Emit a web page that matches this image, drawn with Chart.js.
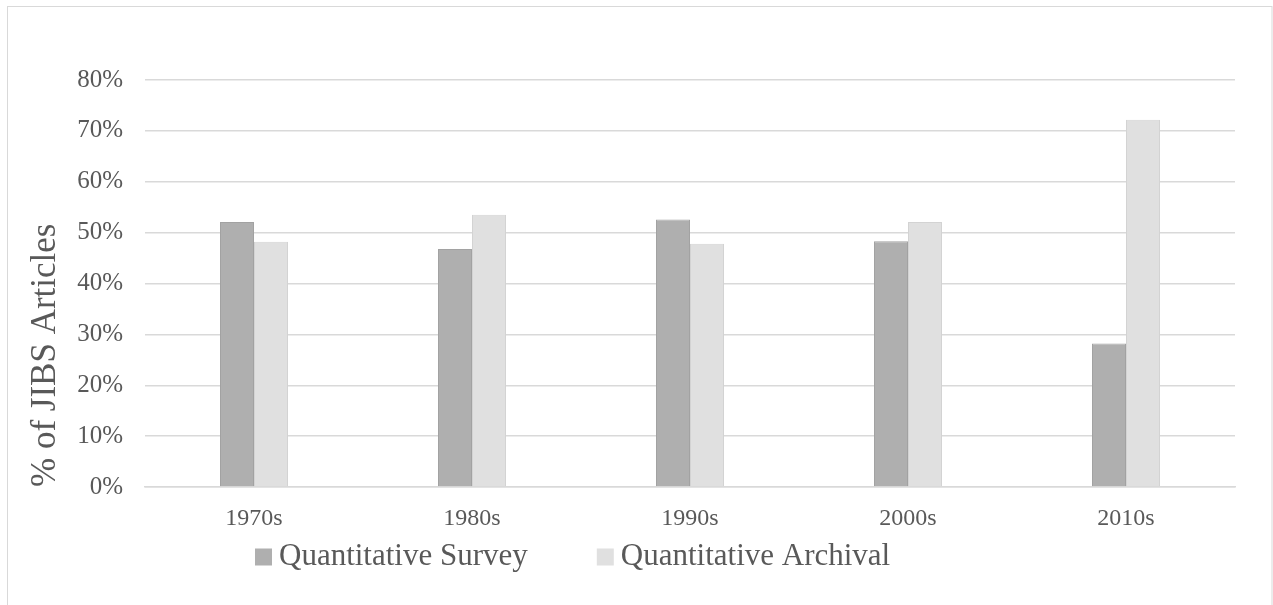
<!DOCTYPE html>
<html>
<head>
<meta charset="utf-8">
<title>% of JIBS Articles by decade</title>
<script src="https://cdn.jsdelivr.net/npm/chart.js@4/dist/chart.umd.min.js"></script>
<style>
  html, body { margin: 0; padding: 0; background: #ffffff; }
  #wrap { position: relative; width: 1273px; height: 605px; }
</style>
</head>
<body>
<div id="wrap"><canvas id="chart"></canvas></div>
<script>
// Decades and the share of quantitative JIBS articles by method
const decades = ['1970s', '1980s', '1990s', '2000s', '2010s'];
const surveyShare = [52.1, 46.8, 52.6, 48.3, 28.2];
const archivalShare = [48.2, 53.5, 47.8, 52.1, 72.2];
const seriesNames = ['Quantitative Survey', 'Quantitative Archival'];
const yTicks = [0, 10, 20, 30, 40, 50, 60, 70, 80];

const SERIF = '"Liberation Serif", "Times New Roman", serif';
const TEXT = '#595959';

// Thin frame around the whole chart
const chartFrame = {
  id: 'chartFrame',
  beforeDraw(chart) {
    const ctx = chart.ctx;
    ctx.save();
    ctx.fillStyle = '#ffffff';
    ctx.fillRect(0, 0, chart.width, chart.height);
    ctx.strokeStyle = '#d9d9d9';
    ctx.lineWidth = 1;
    ctx.strokeRect(7.5, 6.5, chart.width - 8.5, chart.height + 20);
    ctx.restore();
  }
};

// Legend row drawn under the category labels
const bottomLegend = {
  id: 'bottomLegend',
  afterDraw(chart, args, opts) {
    const ctx = chart.ctx;
    ctx.save();
    ctx.font = opts.fontSize + 'px ' + SERIF;
    ctx.textBaseline = 'middle';
    ctx.textAlign = 'left';
    let x = opts.startX;
    const y = opts.centerY;
    chart.data.datasets.forEach(ds => {
      ctx.fillStyle = ds.backgroundColor;
      ctx.fillRect(x, y - opts.box / 2, opts.box, opts.box);
      ctx.fillStyle = TEXT;
      const tx = x + opts.box + opts.textGap;
      ctx.fillText(ds.label, tx, y);
      x = tx + ctx.measureText(ds.label).width + opts.itemGap;
    });
    ctx.restore();
  }
};

new Chart(document.getElementById('chart'), {
  type: 'bar',
  data: {
    labels: decades,
    datasets: [
      {
        label: seriesNames[0],
        data: surveyShare,
        backgroundColor: '#afafaf',
        borderColor: '#a2a2a2',
        borderWidth: 1
      },
      {
        label: seriesNames[1],
        data: archivalShare,
        backgroundColor: '#e0e0e0',
        borderColor: '#d3d3d3',
        borderWidth: 1
      }
    ]
  },
  plugins: [chartFrame, bottomLegend],
  options: {
    responsive: true,
    maintainAspectRatio: false,
    animation: false,
    categoryPercentage: 0.312,
    barPercentage: 1.0,
    layout: { padding: { top: 80, right: 38, bottom: 0, left: 0 } },
    plugins: {
      legend: { display: false },
      tooltip: { enabled: false },
      bottomLegend: { startX: 255, centerY: 557, box: 17, textGap: 7, itemGap: 69, fontSize: 31 }
    },
    scales: {
      x: {
        grid: { display: false },
        border: { display: true, color: '#d9d9d9', width: 1.5 },
        ticks: {
          color: TEXT,
          font: { family: SERIF, size: 24 },
          padding: 9,
          maxRotation: 0
        },
        afterFit(scale) { scale.height = 118; }
      },
      y: {
        min: 0,
        max: 80,
        afterBuildTicks(scale) { scale.ticks = yTicks.map(v => ({ value: v })); },
        grid: { color: '#d9d9d9', lineWidth: 1.5, drawTicks: false },
        border: { display: false },
        ticks: {
          color: TEXT,
          font: { family: SERIF, size: 25 },
          padding: 22,
          callback: v => v + '%'
        },
        title: {
          display: true,
          text: '% of JIBS Articles',
          color: TEXT,
          align: 'start',
          font: { family: SERIF, size: 35, weight: 'normal' },
          padding: { top: 25, bottom: 0 }
        },
        afterFit(scale) { scale.width = 145; }
      }
    }
  }
});
</script>
</body>
</html>
